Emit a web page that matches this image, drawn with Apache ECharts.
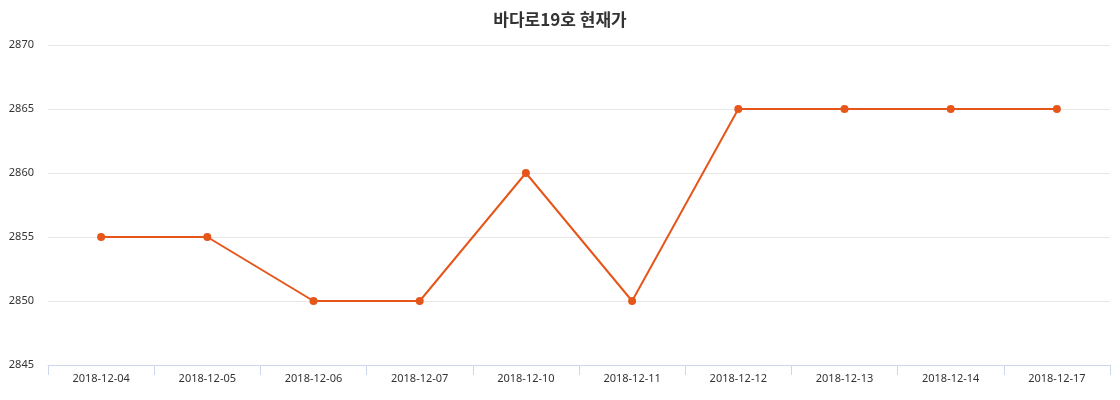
<!DOCTYPE html>
<html><head><meta charset="utf-8">
<script src="https://cdn.jsdelivr.net/npm/echarts@6/dist/echarts.min.js"></script>
<style>html,body{margin:0;padding:0;background:#fff}#c{width:1120px;height:400px}</style>
</head><body><div id="c"></div>
<script>
const categories = ['2018-12-04','2018-12-05','2018-12-06','2018-12-07','2018-12-10','2018-12-11','2018-12-12','2018-12-13','2018-12-14','2018-12-17'];
const prices = [2855,2855,2850,2850,2860,2850,2865,2865,2865,2865];
const chart = echarts.init(document.getElementById('c'));
chart.setOption({
  animation:false,
  title:{text:'바다로19호 현재가',left:'center',top:6,textStyle:{fontFamily:'Noto Sans CJK KR',fontSize:17,fontWeight:'bold',color:'#333'}},
  grid:{left:48,right:10,top:45,bottom:35},
  xAxis:{type:'category',data:categories,boundaryGap:true,
    axisLine:{lineStyle:{color:'#ccd6eb'}},
    axisTick:{show:true,length:10,lineStyle:{color:'#ccd6eb'}},
    axisLabel:{color:'#333',fontSize:11,fontFamily:'Noto Sans',margin:8}},
  yAxis:{type:'value',min:2845,max:2870,interval:5,
    axisLine:{show:false},axisTick:{show:false},
    splitLine:{lineStyle:{color:'#e6e6e6'}},
    axisLabel:{color:'#333',fontSize:11,fontFamily:'Noto Sans',margin:14,formatter:v=>String(v)}},
  series:[{type:'line',data:prices,symbol:'circle',symbolSize:8,
    itemStyle:{color:'#e6561a'},lineStyle:{color:'#e6561a',width:2}}]
});
</script></body></html>
